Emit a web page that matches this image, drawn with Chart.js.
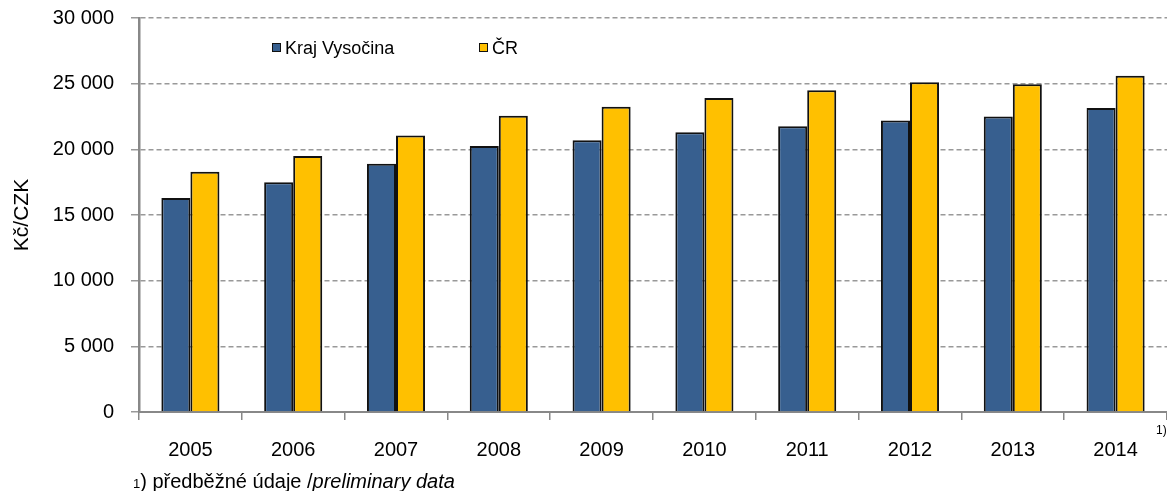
<!DOCTYPE html>
<html>
<head>
<meta charset="utf-8">
<script src="https://cdn.jsdelivr.net/npm/chart.js@4/dist/chart.umd.min.js"></script>
<style>
  body { margin: 0; background: #fff; font-family: "Liberation Sans", Arial, sans-serif; }
  #wrap { position: relative; width: 1167px; height: 491px; }
  .note { position: absolute; color: #000; white-space: nowrap; line-height: 1; }
  .key { display: inline-block; width: 7px; height: 7px; border: 1.5px solid #111; margin-right: 4px; vertical-align: 2px; }
</style>
</head>
<body>
<div id="wrap">
  <canvas id="chart" width="1167" height="491"></canvas>
  <div class="note" style="left:272px; top:39px; font-size:18px;"><span class="key" style="background:#375F8F"></span>Kraj Vysočina</div>
  <div class="note" style="left:479px; top:39px; font-size:18px;"><span class="key" style="background:#FFC000"></span>ČR</div>
  <div class="note" style="left:1156px; top:424px; font-size:12px;">1)</div>
  <div class="note" style="left:133px; top:471px; font-size:20px;"><span style="font-size:13px">1</span>) předběžné údaje /<i>preliminary data</i></div>
</div>
<script>
const years = ['2005', '2006', '2007', '2008', '2009', '2010', '2011', '2012', '2013', '2014'];
const vysocina = [16300, 17500, 18900, 20250, 20700, 21300, 21750, 22200, 22500, 23150];
const cr = [18300, 19500, 21050, 22550, 23250, 23900, 24500, 25100, 24950, 25600];
const yTicks = [0, 5000, 10000, 15000, 20000, 25000, 30000];

const canvas = document.getElementById('chart');
new Chart(canvas.getContext('2d'), {
    type: 'bar',
    data: {
        labels: years,
        datasets: [
            { label: 'Kraj Vysočina', data: vysocina, backgroundColor: '#375F8F', borderColor: '#111', borderWidth: 2 },
            { label: 'ČR', data: cr, backgroundColor: '#FFC000', borderColor: '#111', borderWidth: 2 }
        ]
    },
    options: {
        responsive: false,
        animation: false,
        layout: { padding: { top: 18, right: 0, bottom: 0, left: 0 } },
        plugins: { legend: { display: false }, tooltip: { enabled: false } },
        datasets: { bar: { categoryPercentage: 0.565, barPercentage: 1 } },
        scales: {
            x: {
                afterFit: (s) => { s.height = 79; },
                grid: { offset: true, drawOnChartArea: false, tickLength: 8, color: '#888', lineWidth: 1.5 },
                border: { color: '#888', width: 2 },
                ticks: { color: '#000', font: { family: 'Liberation Sans', size: 20 }, padding: 18, maxRotation: 0 }
            },
            y: {
                min: 0,
                max: 30000,
                afterFit: (s) => { s.width = 139; s.paddingTop = 0; s.paddingBottom = 0; },
                afterBuildTicks: (s) => { s.ticks = yTicks.map(v => ({ value: v })); },
                grid: { color: '#999', lineWidth: 1.5, tickLength: 8 },
                border: { color: '#888', width: 2.5, dash: [5, 3] },
                ticks: {
                    color: '#000',
                    font: { family: 'Liberation Sans', size: 20 },
                    padding: 17,
                    callback: (v) => v === 0 ? '0' : String(v).replace(/\B(?=(\d{3})+(?!\d))/g, ' ')
                },
                title: {
                    display: true,
                    text: 'Kč/CZK',
                    color: '#000',
                    font: { family: 'Liberation Sans', size: 21 },
                    padding: { top: 10, bottom: 0 }
                }
            }
        }
    }
});
</script>
</body>
</html>
